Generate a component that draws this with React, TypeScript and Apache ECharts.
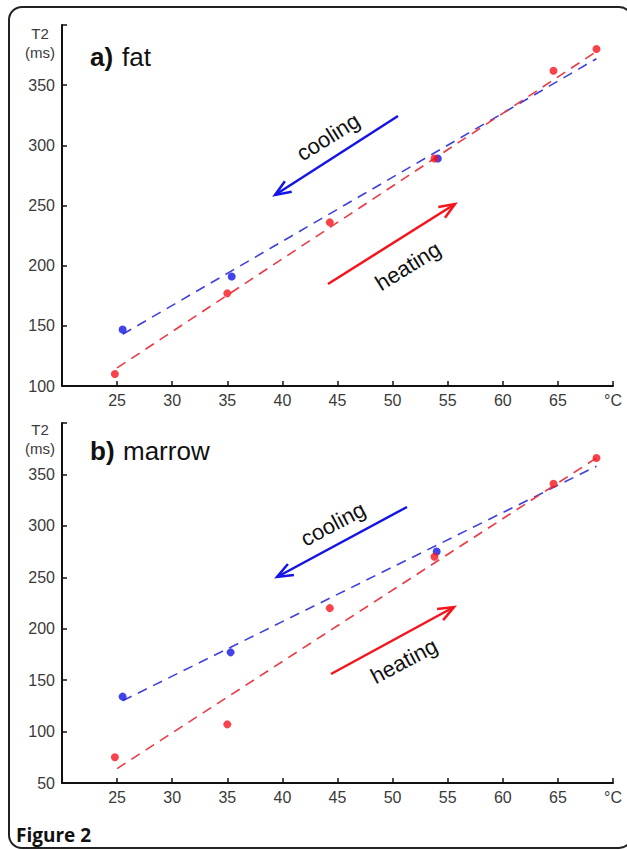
import React, { useEffect, useRef } from "react";
import * as echarts from "echarts";

// ---- Data: (a) fat ----
const fatHeatT = [24.8, 35.0, 44.3, 53.8, 64.6, 68.5];
const fatHeatT2 = [110, 177, 236, 289, 362, 380];
const fatCoolT = [25.5, 35.4, 54.1];
const fatCoolT2 = [147, 191, 289];
const fatHeatFitT = [25, 68.5];
const fatHeatFitT2 = [115, 378];
const fatCoolFitT = [25.5, 68.5];
const fatCoolFitT2 = [143, 372];

// ---- Data: (b) marrow ----
const marrowHeatT = [24.8, 35.0, 44.3, 53.8, 64.6, 68.5];
const marrowHeatT2 = [75, 107, 220, 270, 341, 366];
const marrowCoolT = [25.5, 35.3, 54.0];
const marrowCoolT2 = [134, 177, 275];
const marrowHeatFitT = [25, 68.5];
const marrowHeatFitT2 = [64, 366];
const marrowCoolFitT = [25.5, 68.5];
const marrowCoolFitT2 = [130, 358];

// ---- Axes ----
const xMin = 20, xMax = 70, xStep = 5;
const xUnitLabel = "°C";
const fatYMin = 100, marrowYMin = 50, yMax = 400, yStep = 50;

const RED = "#f5141c";
const BLUE = "#1414e6";
const RED_D = "#ea3a44";
const BLUE_D = "#4040dc";
const FONT = "Liberation Sans";

const zip = (a: number[], b: number[]) => a.map((v, i) => [v, b[i]]);

function arrow(x1: number, y1: number, x2: number, y2: number, color: string) {
  const dx = x1 - x2, dy = y1 - y2;
  const len = Math.hypot(dx, dy);
  const ux = dx / len, uy = dy / len;
  const a = 0.38, L = 17;
  const r = (ang: number) => [
    x2 + L * (ux * Math.cos(ang) - uy * Math.sin(ang)),
    y2 + L * (ux * Math.sin(ang) + uy * Math.cos(ang)),
  ];
  return [
    { type: "line", shape: { x1, y1, x2, y2 }, style: { stroke: color, lineWidth: 2.5 } },
    {
      type: "polyline",
      shape: { points: [r(a), [x2, y2], r(-a)] },
      style: { stroke: color, lineWidth: 2.5, fill: null },
    },
  ];
}

function rotText(text: string, x: number, y: number, deg: number) {
  return {
    type: "text",
    x, y,
    rotation: (deg * Math.PI) / 180,
    style: {
      text, fontFamily: FONT, fontSize: 22, fill: "#111",
      align: "center", verticalAlign: "middle",
    },
  };
}

function plain(text: string, x: number, y: number, size: number, bold = false, family = FONT, align = "left") {
  return {
    type: "text", x, y,
    style: {
      text, fontFamily: family, fontSize: size, fontWeight: bold ? "bold" : "normal",
      fill: "#111", align, verticalAlign: "middle",
    },
  };
}

function xAxisCfg(gridIndex: number) {
  return {
    type: "value", gridIndex, min: xMin, max: xMax, interval: xStep,
    axisLine: { onZero: false, lineStyle: { color: "#111", width: 2 } },
    axisTick: { inside: true, length: 5, lineStyle: { color: "#111", width: 1.5 } },
    axisLabel: {
      color: "#3a3a3a", fontSize: 16, fontFamily: FONT, margin: 6,
      formatter: (v: number) => (v === xMax ? xUnitLabel : v === xMin ? "" : String(v)),
    },
    splitLine: { show: false },
  };
}

function yAxisCfg(gridIndex: number, min: number) {
  return {
    type: "value", gridIndex, min, max: yMax, interval: yStep,
    axisLine: { onZero: false, lineStyle: { color: "#111", width: 2 } },
    axisTick: { inside: true, length: 5, lineStyle: { color: "#111", width: 1.5 } },
    axisLabel: {
      color: "#3a3a3a", fontSize: 16, fontFamily: FONT, margin: 7,
      formatter: (v: number) => (v === yMax ? "" : String(v)),
    },
    splitLine: { show: false },
  };
}

function seriesFor(idx: number, hT: number[], hY: number[], cT: number[], cY: number[],
  hfT: number[], hfY: number[], cfT: number[], cfY: number[]) {
  const dashed = (data: number[][], color: string) => ({
    type: "line", xAxisIndex: idx, yAxisIndex: idx, data, symbol: "none",
    lineStyle: { color, width: 1.6, type: [10, 7] }, z: 2,
  });
  const dots = (data: number[][], color: string, z: number) => ({
    type: "scatter", xAxisIndex: idx, yAxisIndex: idx, data, symbolSize: 8,
    itemStyle: { color }, z,
  });
  return [
    dashed(zip(cfT, cfY), BLUE_D),
    dashed(zip(hfT, hfY), RED_D),
    dots(zip(cT, cY), BLUE, 3),
    dots(zip(hT, hY), RED, 4),
  ];
}

export default function App() {
  const ref = useRef<HTMLDivElement>(null);
  useEffect(() => {
    if (!ref.current) return;
    const chart = echarts.init(ref.current, undefined, { renderer: "svg" });
    const unit = (text: string, y: number) => ({
      type: "text", x: 40, y,
      style: { text, fontFamily: FONT, fontSize: 15, fill: "#3a3a3a", align: "center", verticalAlign: "middle" },
    });
    const graphic: any[] = [
      {
        type: "rect",
        shape: { x: 9, y: 7, width: 623, height: 841, r: 13 },
        style: { fill: "none", stroke: "#222", lineWidth: 2 },
        z: 10,
      },
      // panel titles
      plain("a)", 90, 57, 26, true),
      plain("fat", 122, 57, 26),
      plain("b)", 90, 451, 26, true),
      plain("marrow", 123, 451, 26),
      // y-axis units
      unit("T2", 33), unit("(ms)", 52),
      unit("T2", 429), unit("(ms)", 448),
      // arrows & labels, panel a
      ...arrow(398, 116, 275, 195, BLUE),
      ...arrow(328, 284, 455, 204, RED),
      rotText("cooling", 328, 137, 32),
      rotText("heating", 408, 266, 32),
      // arrows & labels, panel b
      ...arrow(407, 507, 277, 577, BLUE),
      ...arrow(331, 674, 454, 607, RED),
      rotText("cooling", 333, 524, 28),
      rotText("heating", 404, 661, 28),
      // caption
      plain("Figure 2", 16, 835, 19, true, "Open Sans"),
    ];
    chart.setOption({
      animation: false,
      backgroundColor: "#fff",
      grid: [
        { left: 62, top: 25, width: 551, height: 361 },
        { left: 62, top: 423, width: 551, height: 360 },
      ],
      xAxis: [xAxisCfg(0), xAxisCfg(1)],
      yAxis: [yAxisCfg(0, fatYMin), yAxisCfg(1, marrowYMin)],
      series: [
        ...seriesFor(0, fatHeatT, fatHeatT2, fatCoolT, fatCoolT2, fatHeatFitT, fatHeatFitT2, fatCoolFitT, fatCoolFitT2),
        ...seriesFor(1, marrowHeatT, marrowHeatT2, marrowCoolT, marrowCoolT2, marrowHeatFitT, marrowHeatFitT2, marrowCoolFitT, marrowCoolFitT2),
      ],
      graphic,
    });
    return () => chart.dispose();
  }, []);
  return (
    <div
      ref={ref}
      style={{ position: "fixed", left: 0, top: 0, width: 627, height: 850, background: "#fff" }}
    />
  );
}
